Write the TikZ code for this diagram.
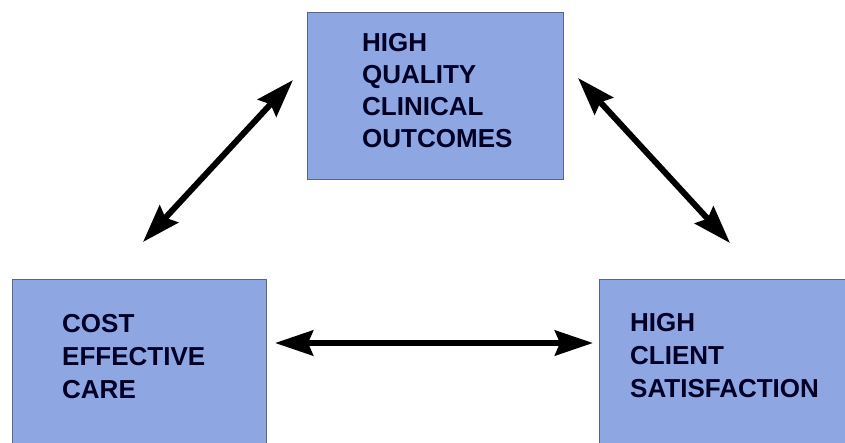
\documentclass[tikz,border=0pt]{standalone}
\usepackage{fontspec}
\setmainfont{Liberation Sans}
\usetikzlibrary{arrows.meta}
\definecolor{boxblue}{RGB}{142,166,226}
\definecolor{boxedge}{RGB}{90,100,135}
\tikzset{
  goalbox/.style={draw=boxedge, line width=1.3pt, fill=boxblue, anchor=north west, inner sep=0pt},
  goaltext/.style={anchor=north west, inner sep=0pt, align=left, text=black!85!blue,
    font=\fontsize{26}{33}\selectfont\bfseries},
  dblarrow/.style={line width=6pt, {Stealth[length=38pt,width=25pt,inset=5pt]}-{Stealth[length=38pt,width=25pt,inset=5pt]}},
}
\begin{document}
\begin{tikzpicture}[x=1pt,y=-1pt]
\useasboundingbox (0,0) rectangle (845,442);
\begin{scope}
\clip (0,0) rectangle (845,442);
\node[goalbox, minimum width=256pt, minimum height=167pt] (top) at (307,12) {};
\node[goalbox, minimum width=254pt, minimum height=175pt] (left) at (12,279) {};
\node[goalbox, minimum width=256pt, minimum height=175pt] (right) at (599,279) {};
\end{scope}
\node[goaltext, font=\fontsize{26}{32}\selectfont\bfseries] (toptext) at (362,33) {HIGH\\QUALITY\\CLINICAL\\OUTCOMES};
\node[goaltext] (lefttext) at (62,314) {COST\\EFFECTIVE\\CARE};
\node[goaltext] (righttext) at (630,313) {HIGH\\CLIENT\\SATISFACTION};
\coordinate (a1s) at (143,242);
\coordinate (a1e) at (293,80);
\coordinate (a2s) at (578,78);
\coordinate (a2e) at (730,243);
\coordinate (a3s) at (275,343);
\coordinate (a3e) at (593,343);
\draw[dblarrow] (a1s) -- (a1e);
\draw[dblarrow] (a2s) -- (a2e);
\draw[dblarrow] (a3s) -- (a3e);
\end{tikzpicture}
\end{document}
